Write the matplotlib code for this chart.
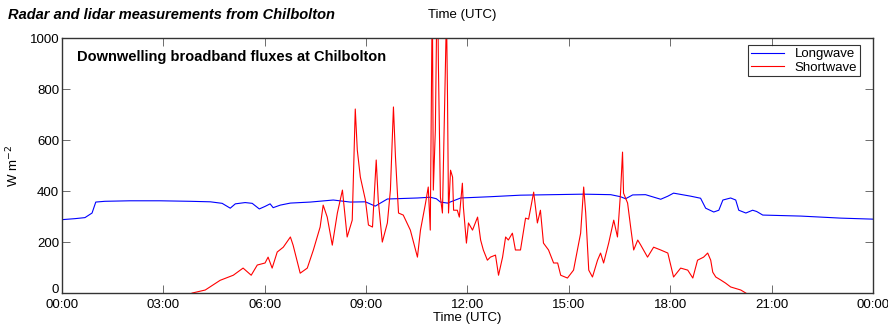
import matplotlib
matplotlib.use("Agg")
import matplotlib.pyplot as plt
import matplotlib.transforms as mtransforms
import numpy as np

plt.rcParams['font.family'] = ['Liberation Sans', 'DejaVu Sans']

# hours since 00:00 UTC and downwelling flux (W m-2)
lw_time = [0.0, 0.39, 0.68, 0.89, 1.0, 1.27, 2.01, 2.9, 3.79, 4.39, 4.74, 4.98,
           5.13, 5.42, 5.63, 5.84, 6.01, 6.16, 6.25, 6.46, 6.76, 7.35, 8.03, 8.53,
           8.98, 9.27, 9.63, 10.52, 10.9, 11.08, 11.2, 11.41, 11.8, 12.68, 13.57,
           15.44, 16.24, 16.53, 16.68, 16.89, 17.27, 17.72, 17.93, 18.1, 18.61,
           18.9, 19.05, 19.29, 19.44, 19.56, 19.79, 19.94, 20.03, 20.24, 20.44,
           20.56, 20.74, 21.87, 23.05, 24.0]
lw_flux = [288, 292, 296, 314, 357, 360, 362, 362, 360, 358, 352, 333,
           350, 355, 352, 330, 340, 350, 335, 345, 353, 357, 365, 357,
           358, 341, 369, 373, 376, 370, 357, 353, 373, 378, 384,
           388, 386, 378, 370, 385, 386, 368, 380, 392, 380,
           372, 333, 318, 325, 365, 373, 365, 325, 314, 325,
           320, 306, 302, 294, 290]

sw_time = [0.0, 3.85, 4.24, 4.68, 5.07, 5.36, 5.6, 5.78, 6.01, 6.1, 6.22, 6.37,
           6.55, 6.76, 6.84, 7.05, 7.26, 7.44, 7.64, 7.73, 7.85, 8.0, 8.15, 8.3,
           8.44, 8.59, 8.68, 8.74, 8.83, 8.98, 9.07, 9.19, 9.3, 9.36, 9.48, 9.63,
           9.72, 9.81, 9.87, 9.96, 10.1, 10.31, 10.52, 10.61, 10.76, 10.84, 10.9,
           10.96, 10.99, 11.05, 11.11, 11.14, 11.2, 11.26, 11.29, 11.38, 11.41,
           11.44, 11.5, 11.56, 11.59, 11.7, 11.76, 11.85, 11.88, 11.97, 12.03,
           12.15, 12.3, 12.39, 12.47, 12.59, 12.68, 12.83, 12.92, 13.04, 13.13,
           13.21, 13.33, 13.42, 13.57, 13.72, 13.81, 13.96, 14.07, 14.16, 14.25,
           14.4, 14.55, 14.67, 14.76, 14.96, 15.14, 15.35, 15.44, 15.5, 15.59,
           15.7, 15.85, 15.94, 16.03, 16.18, 16.33, 16.44, 16.53, 16.59, 16.62,
           16.74, 16.83, 16.92, 17.04, 17.13, 17.33, 17.51, 17.72, 17.93, 18.1,
           18.31, 18.52, 18.67, 18.81, 18.99, 19.11, 19.2, 19.26, 19.35, 19.5,
           19.64, 19.79, 20.09, 20.24, 24.0]
sw_flux = [0, 0, 12, 50, 70, 98, 70, 110, 118, 141, 98, 161,
           180, 220, 188, 78, 98, 169, 259, 345, 298, 188, 314, 404,
           220, 286, 722, 561, 455, 365, 267, 259, 522, 365, 200, 275,
           404, 730, 533, 314, 306, 247, 141, 247, 353, 416, 247,
           1200, 404, 639, 1300, 900, 376, 314, 510, 1100, 769,
           314, 482, 455, 325, 325, 298, 431, 337, 196, 275,
           247, 298, 208, 169, 129, 141, 149, 70, 141, 220,
           208, 235, 169, 169, 294, 290, 396, 275, 325, 196,
           169, 118, 118, 70, 59, 90, 235, 416, 314, 90,
           63, 129, 157, 118, 196, 286, 220, 392, 553, 392,
           353, 259, 169, 208, 188, 141, 180, 169, 157, 63,
           98, 90, 59, 129, 141, 157, 129, 82, 63, 51,
           39, 24, 12, 0, 0]

tick_hours = [0, 3, 6, 9, 12, 15, 18, 21, 24]
tick_labels = ['00:00', '03:00', '06:00', '09:00', '12:00', '15:00', '18:00', '21:00', '00:00']

# night-time zeros sit under the axis line in the original, hide them
sw_plot = np.ma.masked_array(sw_flux)
sw_plot[0] = np.ma.masked
sw_plot[-1] = np.ma.masked

fig = plt.figure(figsize=(8.88, 3.26), dpi=100)
ax = fig.add_axes([0.0698, 0.101, 0.9132, 0.782])

ax.plot(lw_time, lw_flux, color='blue', lw=0.8, label='Longwave', zorder=1)
ax.plot(sw_time, sw_plot, color='red', lw=0.8, label='Shortwave', zorder=1)

ax.set_xlim(0, 24)
ax.set_ylim(0, 1000)
ax.set_xticks(tick_hours)
ax.set_xticklabels(tick_labels)
ax.set_yticks([0, 200, 400, 600, 800, 1000])
ax.tick_params(direction='in', top=True, right=True, length=6, width=0.6,
               labelsize=9.5, color='#555555', pad=2)
ax.tick_params(axis='x', pad=4)
for s in ax.spines.values():
    s.set_linewidth(1.0)
    s.set_color('#333333')
    s.set_zorder(3)

# lift the "0" label a little so it clears the first time label
zero_lbl = ax.get_yticklabels()[0]
zero_lbl.set_transform(zero_lbl.get_transform() +
                       mtransforms.ScaledTranslation(0, 3 / 72, fig.dpi_scale_trans))

ax.set_xlabel('Time (UTC)', fontsize=9.5, labelpad=1)
ax.set_ylabel('W m$^{-2}$', fontsize=9.5, labelpad=6)

ax.text(0.018, 0.925, 'Downwelling broadband fluxes at Chilbolton',
        transform=ax.transAxes, fontsize=10.5, fontweight='bold', va='center')

leg = ax.legend(loc='upper right', fontsize=9.5, frameon=True, fancybox=False,
                handlelength=2.5, borderpad=0.2, labelspacing=0.1,
                borderaxespad=0.5, bbox_to_anchor=(0.992, 0.998))
leg.get_frame().set_edgecolor('black')
leg.get_frame().set_linewidth(0.8)

fig.text(0.009, 0.955, 'Radar and lidar measurements from Chilbolton',
         fontsize=10.5, fontstyle='italic', fontweight='bold', va='center')
fig.text(0.521, 0.955, 'Time (UTC)', fontsize=9.5, ha='center', va='center')

fig.savefig('out.png', dpi=100)
